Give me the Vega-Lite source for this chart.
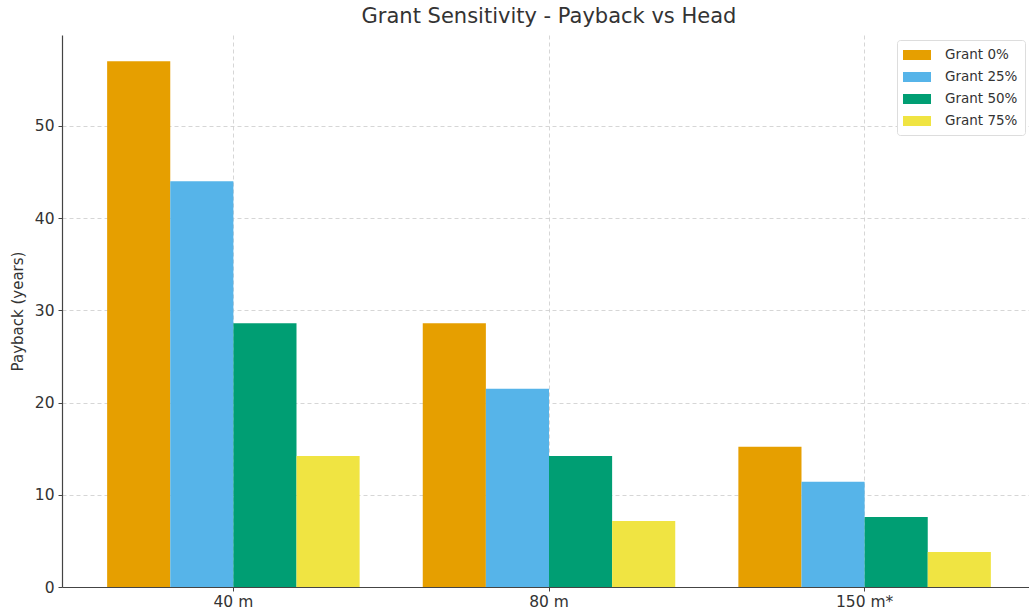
{
  "$schema": "https://vega.github.io/schema/vega-lite/v6.json",
  "width": 974,
  "height": 552,
  "autosize": {"type": "none"},
  "padding": {"left": 62, "top": 35, "right": 0, "bottom": 27},
  "background": "white",
  "title": {
    "text": "Grant Sensitivity - Payback vs Head",
    "font": "DejaVu Sans",
    "fontSize": 21,
    "fontWeight": "normal",
    "color": "#333333",
    "offset": 8
  },
  "config": {
    "view": {"stroke": null},
    "font": "DejaVu Sans"
  },
  "data": {
    "values": [
      {"head": "40 m", "grant": "Grant 0%", "payback": 57.0},
      {"head": "40 m", "grant": "Grant 25%", "payback": 44.0},
      {"head": "40 m", "grant": "Grant 50%", "payback": 28.6},
      {"head": "40 m", "grant": "Grant 75%", "payback": 14.2},
      {"head": "80 m", "grant": "Grant 0%", "payback": 28.6},
      {"head": "80 m", "grant": "Grant 25%", "payback": 21.5},
      {"head": "80 m", "grant": "Grant 50%", "payback": 14.2},
      {"head": "80 m", "grant": "Grant 75%", "payback": 7.15},
      {"head": "150 m*", "grant": "Grant 0%", "payback": 15.2},
      {"head": "150 m*", "grant": "Grant 25%", "payback": 11.4},
      {"head": "150 m*", "grant": "Grant 50%", "payback": 7.6},
      {"head": "150 m*", "grant": "Grant 75%", "payback": 3.8}
    ]
  },
  "mark": {"type": "bar"},
  "encoding": {
    "x": {
      "field": "head",
      "type": "nominal",
      "sort": ["40 m", "80 m", "150 m*"],
      "scale": {"paddingInner": 0.2, "paddingOuter": 0.143},
      "axis": {
        "title": null,
        "labelAngle": 0,
        "labelFontSize": 15.5,
        "labelColor": "#333333",
        "labelPadding": 3,
        "bandPosition": 0.5,
        "grid": true,
        "gridColor": "#cccccc",
        "gridDash": [4, 3],
        "gridWidth": 0.8,
        "domainColor": "#444444",
        "domainWidth": 1.2,
        "tickColor": "#444444",
        "tickSize": 4
      }
    },
    "xOffset": {
      "field": "grant",
      "type": "nominal",
      "sort": ["Grant 0%", "Grant 25%", "Grant 50%", "Grant 75%"],
      "scale": {"paddingInner": 0, "paddingOuter": 0}
    },
    "y": {
      "field": "payback",
      "type": "quantitative",
      "scale": {"domain": [0, 59.85], "nice": false, "zero": true},
      "axis": {
        "title": "Payback (years)",
        "titleFontSize": 15,
        "titleFontWeight": "normal",
        "titleColor": "#333333",
        "titlePadding": 9,
        "values": [0, 10, 20, 30, 40, 50],
        "labelFontSize": 15.5,
        "labelColor": "#333333",
        "labelPadding": 4,
        "grid": true,
        "gridColor": "#cccccc",
        "gridDash": [4, 3],
        "gridWidth": 0.8,
        "domainColor": "#444444",
        "domainWidth": 1.2,
        "tickColor": "#444444",
        "tickSize": 4
      }
    },
    "color": {
      "field": "grant",
      "type": "nominal",
      "sort": ["Grant 0%", "Grant 25%", "Grant 50%", "Grant 75%"],
      "scale": {
        "domain": ["Grant 0%", "Grant 25%", "Grant 50%", "Grant 75%"],
        "range": ["#E69F00", "#56B4E9", "#009E73", "#F0E442"]
      },
      "legend": {
        "title": null,
        "orient": "none",
        "legendX": 835,
        "legendY": 5,
        "padding": 7,
        "strokeColor": "#dddddd",
        "fillColor": "white",
        "cornerRadius": 3,
        "symbolType": "M -1.75,-0.625 L 1.75,-0.625 L 1.75,0.625 L -1.75,0.625 Z",
        "symbolSize": 256,
        "symbolStrokeWidth": 0,
        "symbolOpacity": 1,
        "labelFontSize": 13.5,
        "labelColor": "#333333",
        "labelOffset": 20,
        "rowPadding": 7,
        "symbolOffset": 5
      }
    }
  }
}
